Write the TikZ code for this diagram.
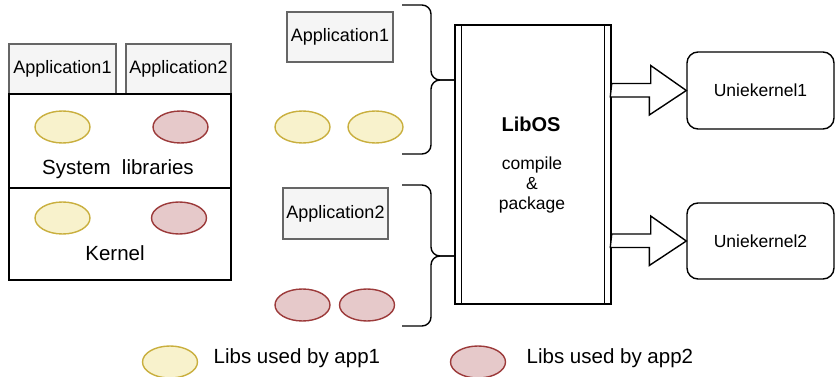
\documentclass[tikz,border=0pt]{standalone}
\usepackage{fontspec}
\setmainfont{Liberation Sans}
\usetikzlibrary{shapes.geometric}
\definecolor{libyfill}{HTML}{F8F2CC}
\definecolor{libydraw}{HTML}{C9AF3E}
\definecolor{librfill}{HTML}{E6C9CA}
\definecolor{librdraw}{HTML}{9C3A3A}
\definecolor{appfill}{HTML}{F5F5F5}
\definecolor{appline}{HTML}{666666}
\begin{document}
\begin{tikzpicture}[x=1pt, y=-1pt, line width=1.4pt,
    app/.style={draw=appline, fill=appfill, inner sep=0, font=\fontsize{18}{21}\selectfont},
    layer/.style={draw, inner sep=0},
    liby/.style={ellipse, draw=libydraw, fill=libyfill, minimum width=55pt, minimum height=32pt, inner sep=0},
    libr/.style={ellipse, draw=librdraw, fill=librfill, minimum width=55pt, minimum height=32pt, inner sep=0},
    ukbox/.style={draw, rounded corners=11pt, minimum width=147pt, inner sep=0, font=\fontsize{17.5}{20}\selectfont},
    lbl/.style={inner sep=0, font=\fontsize{20.5}{24}\selectfont},
    brace/.style={rounded corners=9pt},
    blockarrow/.style={draw, fill=white, line join=miter}]
    \useasboundingbox (0,0) rectangle (835,377);

    % classic stack
    \node[app, minimum width=107pt, minimum height=50pt] (lapp1) at (62.5,69) {Application1};
    \node[app, minimum width=105pt, minimum height=50pt] (lapp2) at (178.5,69) {Application2};
    \node[layer, minimum width=222pt, minimum height=94pt] (syslib) at (120,141) {};
    \node[layer, minimum width=222pt, minimum height=92pt] (kern) at (120,234) {};
    \node[liby] (sy1) at (62.5,127) {};
    \node[libr] (sr1) at (180.5,127) {};
    \node[lbl] (syslbl) at (118,169) {System\ \ libraries};
    \node[liby] (ky1) at (62.5,218) {};
    \node[libr] (kr1) at (179,218) {};
    \node[lbl] (kernlbl) at (115,253) {Kernel};

    % apps with their libs
    \node[app, minimum width=106pt, minimum height=50pt] (app1) at (340,37) {Application1};
    \node[liby] (y1) at (302.5,127) {};
    \node[liby] (y2) at (375.5,127) {};
    \node[app, minimum width=105pt, minimum height=51pt] (app2) at (335.5,213.5) {Application2};
    \node[libr] (r1) at (302.5,305) {};
    \node[libr] (r2) at (367,305) {};

    % libos
    \node[draw, minimum width=156pt, minimum height=279pt, inner sep=0] (libos) at (533,164.5) {};
    \draw ([xshift=7pt]libos.north west) -- ([xshift=7pt]libos.south west);
    \draw ([xshift=-7pt]libos.north east) -- ([xshift=-7pt]libos.south east);
    \node[inner sep=0, font=\fontsize{20}{24}\bfseries] (libostitle) at (531,124) {LibOS};
    \node[inner sep=0, align=center, font=\fontsize{17.5}{20}\selectfont] (libostext) at (532,185) {compile\\\&\\package};

    % braces
    \draw[brace] (402,5) -| (431,80) -- (libos.west |- 0,80);
    \draw[brace] (402,154) -| (431,80) -- (libos.west |- 0,80);
    \draw[brace] (402,185) -| (431,256) -- (libos.west |- 0,256);
    \draw[brace] (402,326) -| (431,256) -- (libos.west |- 0,256);

    % unikernels
    \node[ukbox, minimum height=77pt] (uk1) at (760.5,90.5) {Uniekernel1};
    \node[ukbox, minimum height=76pt] (uk2) at (760.5,241) {Uniekernel2};

    \draw[blockarrow] (libos.east |- uk1.west) ++(0,-7) -- ++(39,0) -- ++(0,-18) -- (uk1.west)
        -- ++(-37,24.5) -- ++(0,-18) -- ++(-39,0) -- cycle;
    \draw[blockarrow] (libos.east |- uk2.west) ++(0,-7) -- ++(39,0) -- ++(0,-18) -- (uk2.west)
        -- ++(-37,24.5) -- ++(0,-18) -- ++(-39,0) -- cycle;

    % legend
    \node[liby] (legy) at (170,362) {};
    \node[lbl, anchor=west] (legytext) at (213,358) {Libs used by app1};
    \node[libr] (legr) at (478,362) {};
    \node[lbl, anchor=west] (legrtext) at (526,358) {Libs used by app2};
\end{tikzpicture}
\end{document}
